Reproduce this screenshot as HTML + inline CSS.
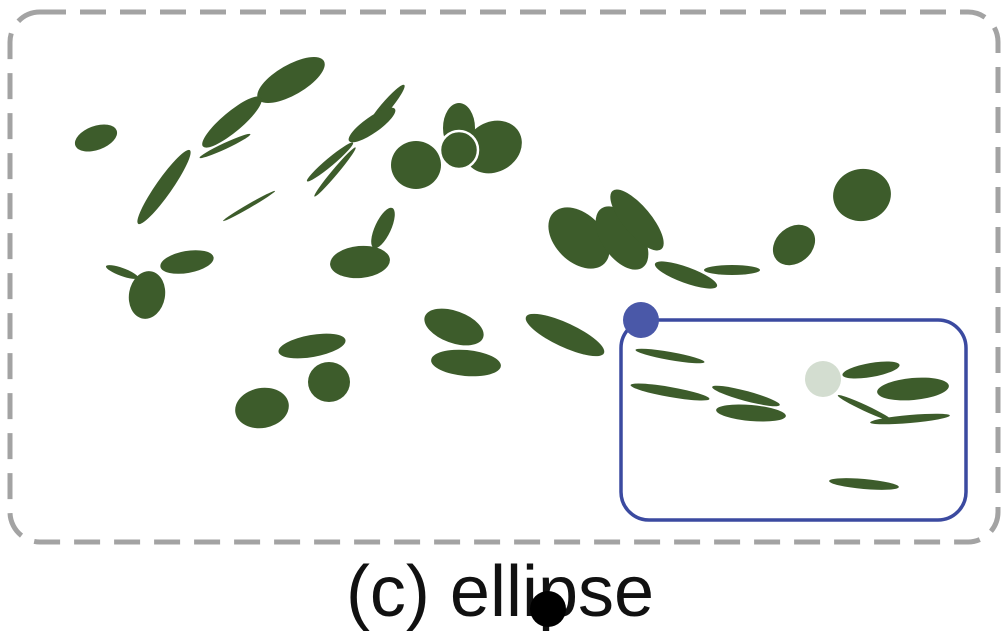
<!DOCTYPE html>
<html><head><meta charset="utf-8"><style>
html,body{margin:0;padding:0;background:#fff;}
svg{display:block;}
text{font-family:"Liberation Sans",sans-serif;}
</style></head><body>
<svg id="fig" width="1004" height="641" viewBox="0 0 1004 641">
<rect x="10" y="12" width="988" height="530" rx="30" fill="none" stroke="#a3a3a3" stroke-width="5" stroke-dasharray="26 14"/>
<g id="marks"></g>
<rect x="621" y="320" width="345" height="200" rx="28" fill="none" stroke="#3b4aa0" stroke-width="3.5"/>
<circle cx="459" cy="150" r="19" fill="#3d5c2b" stroke="#fff" stroke-width="2.5"/>
<circle cx="823" cy="379" r="18" fill="#d3ddd0"/>
<circle cx="641" cy="320" r="18" fill="#4a58a8"/>
<text x="500" y="616" font-size="72" text-anchor="middle" fill="#111">(c) ellipse</text>
<circle cx="548" cy="609" r="18" fill="#000"/>
</svg>
<script>
const cxs=[96,291,232,225,164,249,385,372,330,335,416,459,493,383,360,187,122,147,579,622,637,686,732,794,862,454,466,565,312,329,262,670,670,746,751,871,913,865,910,864];
const cys=[138,80,122,146,187,206,108,125,162,172,165,128,147,228,262,262,272,295,238,238,220,275,270,245,195,327,363,335,346,382,408,356,392,396,413,370,389,408,419,484];
const rxs=[22,38,38,28,45,30,30,28,30,32,25,16,30,22,30,27,17,18,36,36,38,33,28,23,29,31,35,43,34,21,27,35,40,35,35,29,36,30,40,35];
const rys=[12,15,10,3,8,2,5,8,4,3,24,25,25,8,16,11,4,24,24,20,14,8,5,18,26,16,13,12,11,20,20,4,5,5,8,7,11,3,4,5];
const angles=[-20,-30,-40,-25,-55,-30,-50,-35,-40,-50,0,0,-30,-65,-5,-10,20,10,45,55,50,20,0,-40,-10,20,5,25,-10,0,-10,10,10,15,5,-10,-5,25,-5,5];
const g=document.getElementById('marks');
for(let i=0;i<cxs.length;i++){
  const e=document.createElementNS('http://www.w3.org/2000/svg','ellipse');
  e.setAttribute('cx',cxs[i]);e.setAttribute('cy',cys[i]);
  e.setAttribute('rx',rxs[i]);e.setAttribute('ry',rys[i]);
  e.setAttribute('transform','rotate('+angles[i]+' '+cxs[i]+' '+cys[i]+')');
  e.setAttribute('fill','#3d5c2b');
  
  
  g.appendChild(e);
}
</script>
</body></html>
